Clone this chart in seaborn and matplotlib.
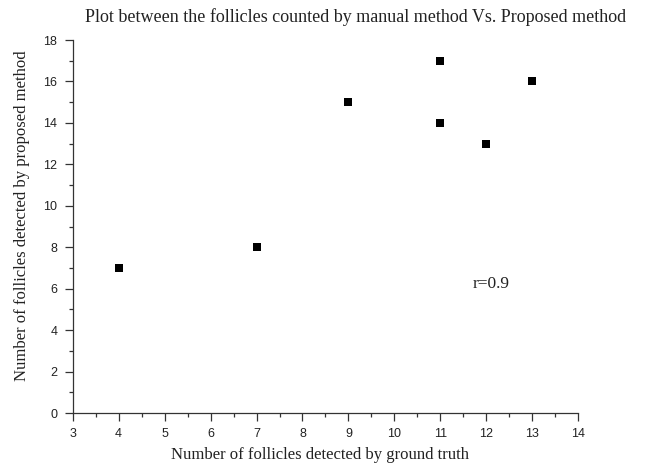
import matplotlib
matplotlib.use('Agg')
import matplotlib.pyplot as plt
from matplotlib.ticker import AutoMinorLocator, MultipleLocator
import pandas as pd
import seaborn as sns

# follicle counts
ground_truth = [4, 7, 9, 11, 11, 12, 13]
proposed = [7, 8, 15, 17, 14, 13, 16]
r_label = 'r=0.9'

df = pd.DataFrame({'ground_truth': ground_truth, 'proposed': proposed})

sns.set_style('ticks')
serif = ['Liberation Serif', 'DejaVu Serif']
sans = ['Liberation Sans', 'DejaVu Sans']

fig = plt.figure(figsize=(6.49, 4.71), dpi=100)
ax = fig.add_axes([0.112, 0.123, 0.779, 0.792])

sns.scatterplot(data=df, x='ground_truth', y='proposed', marker='s', s=28,
                color='black', edgecolor='black', linewidth=0, ax=ax)

ax.set_xlim(3, 14)
ax.set_ylim(0, 18)
ax.xaxis.set_major_locator(MultipleLocator(1))
ax.yaxis.set_major_locator(MultipleLocator(2))
ax.xaxis.set_minor_locator(AutoMinorLocator(2))
ax.yaxis.set_minor_locator(AutoMinorLocator(2))
ax.tick_params(which='major', direction='out', length=6, width=0.9, labelsize=9,
               color='#333333', labelcolor='#222222', pad=5)
ax.tick_params(which='minor', direction='out', length=3, width=0.9, color='#333333')
for lab in ax.get_xticklabels() + ax.get_yticklabels():
    lab.set_family(sans)

sns.despine(ax=ax)
for sp in ['left', 'bottom']:
    ax.spines[sp].set_linewidth(0.9)
    ax.spines[sp].set_color('#333333')

ax.set_xlabel('Number of follicles detected by ground truth', family=serif, fontsize=12,
              labelpad=5, color='#222222')
ax.set_ylabel('Number of follicles detected by proposed method', family=serif, fontsize=12,
              labelpad=10, color='#222222')
ax.xaxis.label.set_x(0.49)
ax.yaxis.label.set_y(0.53)
ax.set_title('Plot between the follicles counted by manual method Vs. Proposed method',
             family=serif, fontsize=13, pad=13, x=0.56, color='#222222')
ax.text(12.1, 6.25, r_label, family=serif, fontsize=12.5, ha='center', va='center',
        color='#222222')

fig.savefig('out.png', dpi=100)
